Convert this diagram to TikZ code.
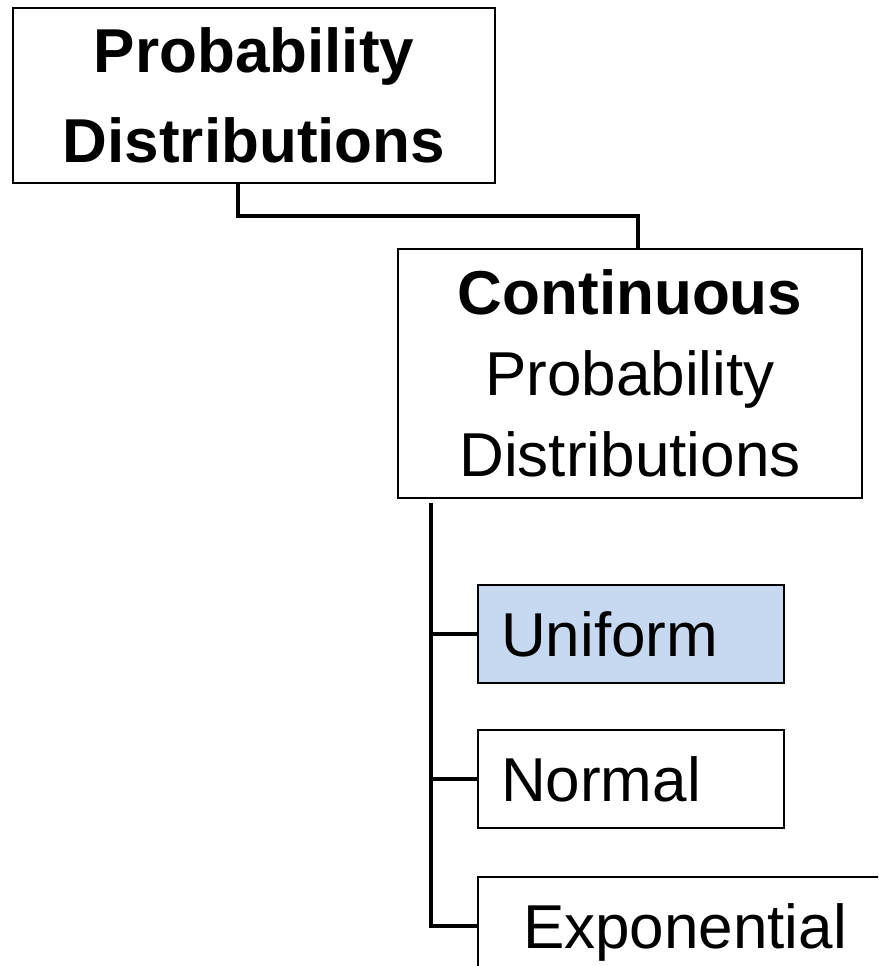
\documentclass[tikz,border=0pt]{standalone}
\usepackage{fontspec}
\setmainfont{Liberation Sans}
\usetikzlibrary{positioning}
\definecolor{paleblue}{RGB}{198, 217, 241}
\tikzset{
  catnode/.style = {shape=rectangle, draw, line width=2pt, align=center},
  root/.style    = {catnode, font=\fontsize{62}{90}\selectfont\bfseries,
                    minimum width=482pt, minimum height=175pt},
  family/.style  = {catnode, font=\fontsize{62}{81}\selectfont,
                    minimum width=464pt, minimum height=249pt},
  leaf/.style    = {shape=rectangle, draw, line width=2pt, align=left,
                    font=\fontsize{62}{70}\selectfont, text width=260pt,
                    inner xsep=23pt, minimum height=98pt,
                    text height=45pt, text depth=0pt},
  link/.style    = {line width=4pt}
}

\begin{document}
\begin{tikzpicture}[x=1pt, y=-1pt]
  \useasboundingbox (0,0) rectangle (878,966);
  \clip (0,0) rectangle (878,966);
  \node [root] (prob) at (254,95.5) {Probability\\Distributions};
  \node [family] (cont) at (630,373.5) {\textbf{Continuous}\\Probability\\Distributions};
  \node [leaf, fill=paleblue, anchor=north west] (uni) at (477,584) {Uniform};
  \node [leaf] (normal) [below=45pt of uni] {Normal};
  \node [leaf, text width=326pt, inner xsep=45pt] (expo)
        [below=47pt of normal.south west, anchor=north west] {Exponential};
  \coordinate (elbow) at (238,216);
  \coordinate (drop) at (638,216);
  \coordinate (trunk) at (431,503);
  \draw[link] (prob.south -| elbow) -- (elbow) -- (drop) -- (cont.north -| drop);
  \draw[link] (trunk) |- (expo.west);
  \draw[link] (trunk |- uni.west) -- (uni.west);
  \draw[link] (trunk |- normal.west) -- (normal.west);
\end{tikzpicture}
\end{document}
